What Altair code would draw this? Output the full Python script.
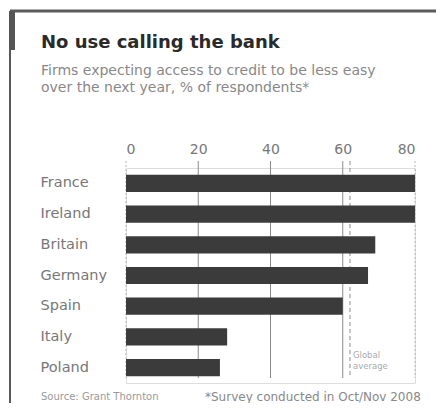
import altair as alt
import pandas as pd

countries = ["France", "Ireland", "Britain", "Germany", "Spain", "Italy", "Poland"]
values = [80, 80, 69, 67, 60, 28, 26]
grid_ticks = [20, 40, 60]
edge_ticks = [0, 80]
global_average = 62

title_text = "No use calling the bank"
subtitle_lines = ["Firms expecting access to credit to be less easy",
                  "over the next year, % of respondents*"]
source_text = "Source: Grant Thornton"
note_text = "*Survey conducted in Oct/Nov 2008"
avg_label = ["Global", "average"]

FONT = "DejaVu Sans"

bars_df = pd.DataFrame({"country": countries, "value": values})
xscale = alt.Scale(domain=[0, 80], nice=False, zero=True)

yscale = alt.Scale(domain=countries, paddingInner=0.44, paddingOuter=0.22)

bars = alt.Chart(bars_df).mark_bar(color="#3b3b3b").encode(
    x=alt.X("value:Q", scale=xscale,
            axis=alt.Axis(orient="top", values=[0, 20, 40, 60, 80], title=None,
                          domain=False, ticks=False, grid=False,
                          labelColor="#777", labelFontSize=14, labelFont=FONT,
                          labelPadding=12, labelFontWeight="normal")),
    y=alt.Y("country:N", scale=yscale, sort=countries,
            axis=alt.Axis(title=None, domain=False, ticks=False, grid=False,
                          labelAlign="left", labelPadding=86, labelColor="#777",
                          labelFontSize=14.5, labelFont=FONT)),
)

grid = alt.Chart(pd.DataFrame({"v": grid_ticks})).mark_rule(
    color="#8a8a8a", strokeWidth=1).encode(
    x=alt.X("v:Q", scale=xscale), y=alt.value(-7), y2=alt.value(210))

edges = alt.Chart(pd.DataFrame({"v": edge_ticks})).mark_rule(
    color="#b5b5b5", strokeWidth=1, strokeDash=[2, 2]).encode(
    x=alt.X("v:Q", scale=xscale), y=alt.value(-7), y2=alt.value(210))

avg = alt.Chart(pd.DataFrame({"v": [global_average]})).mark_rule(
    color="#8a8a8a", strokeWidth=1, strokeDash=[4, 3]).encode(
    x=alt.X("v:Q", scale=xscale), y=alt.value(-7), y2=alt.value(210))

avg_text = alt.Chart(pd.DataFrame({"t": [avg_label]})).mark_text(
    align="left", baseline="middle", fontSize=8.5, color="#aaa", font=FONT,
    lineHeight=11, dx=3).encode(
    x=alt.X("v:Q", scale=xscale), y=alt.value(187), text="t:N"
).transform_calculate(v=str(global_average))

title = alt.Chart(pd.DataFrame({"t": [title_text]})).mark_text(
    align="left", baseline="middle", fontSize=18, fontWeight="bold",
    color="#2a2a2a", font=FONT).encode(
    x=alt.value(-85), y=alt.value(-125), text="t:N")

sub = alt.Chart(pd.DataFrame({"t": [subtitle_lines]})).mark_text(
    align="left", baseline="middle", fontSize=14, color="#888", font=FONT,
    lineHeight=17).encode(
    x=alt.value(-85), y=alt.value(-97), text="t:N")

src = alt.Chart(pd.DataFrame({"t": [source_text]})).mark_text(
    align="left", baseline="middle", fontSize=10, color="#999", font=FONT).encode(
    x=alt.value(-85), y=alt.value(229), text="t:N")

note = alt.Chart(pd.DataFrame({"t": [note_text]})).mark_text(
    align="left", baseline="middle", fontSize=12, color="#888", font=FONT).encode(
    x=alt.value(79), y=alt.value(229), text="t:N")

frame_df = pd.DataFrame({"k": [1]})
top_line = alt.Chart(frame_df).mark_rule(color="#5a5a5a", strokeWidth=3).encode(
    x=alt.value(-116), x2=alt.value(330), y=alt.value(-157))
left_line = alt.Chart(frame_df).mark_rule(color="#5a5a5a", strokeWidth=2).encode(
    x=alt.value(-116), y=alt.value(-157), y2=alt.value(260))
left_tab = alt.Chart(frame_df).mark_rule(color="#555", strokeWidth=6).encode(
    x=alt.value(-114), y=alt.value(-157), y2=alt.value(-118))

chart = alt.layer(
    edges, grid, avg, bars, avg_text, title, sub, src, note,
    top_line, left_line, left_tab
).properties(
    width=289, height=215,
    autosize=alt.AutoSizeParams(type="none"),
    padding={"left": 118, "top": 160, "right": 21, "bottom": 20},
).configure_view(stroke=None).configure(background="white")

chart.save("out.html", embed_options={"renderer": "svg", "actions": False})
